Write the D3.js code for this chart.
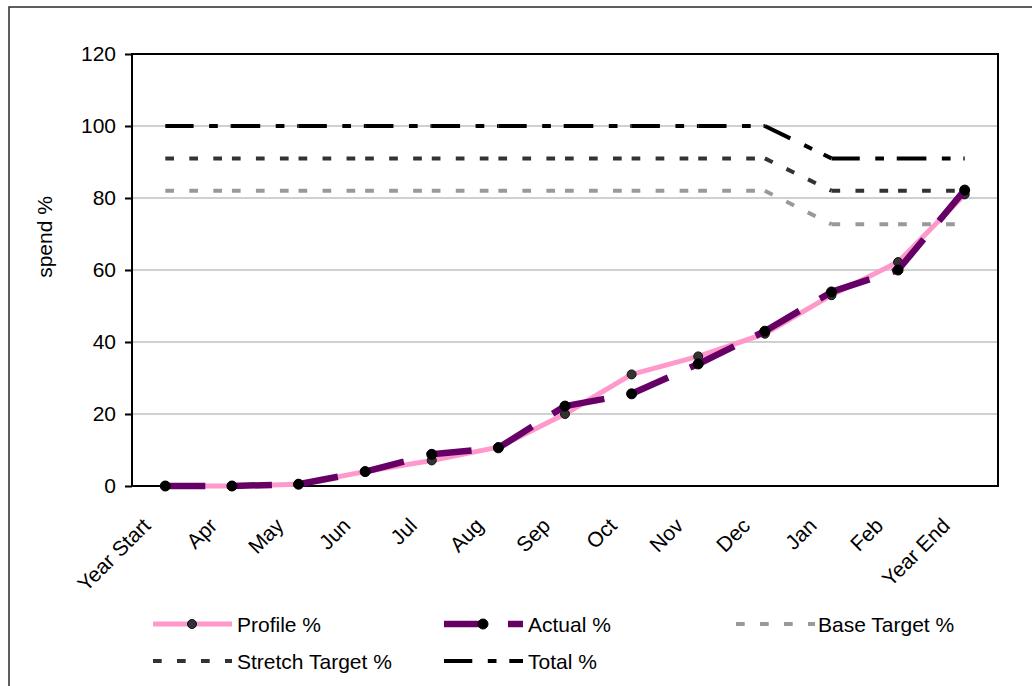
<!DOCTYPE html>
<html>
<head>
<meta charset="utf-8">
<script src="https://cdn.jsdelivr.net/npm/d3@7"></script>
<style>
  html, body { margin: 0; padding: 0; background: #fff; }
  svg { display: block; font-family: "Liberation Sans", Arial, sans-serif; }
</style>
</head>
<body>
<svg id="chart" width="1032" height="686"></svg>
<script>
// ---- data ----
const categories = ["Year Start", "Apr", "May", "Jun", "Jul", "Aug", "Sep", "Oct", "Nov", "Dec", "Jan", "Feb", "Year End"];
const profile = [0, 0, 0.5, 4, 7.1, 10.8, 20, 31, 36, 42.3, 53, 62.2, 81];
const actual = [0, 0, 0.5, 4, 8.8, 10.6, 22.2, 25.6, 33.9, 43, 53.9, 60, 82.2];
const baseTarget = [82, 82, 82, 82, 82, 82, 82, 82, 82, 82, 72.7, 72.7, 72.7];
const stretchTarget = [91, 91, 91, 91, 91, 91, 91, 91, 91, 91, 82, 82, 82];
const total = [100, 100, 100, 100, 100, 100, 100, 100, 100, 100, 91, 91, 91];
const yTicks = [0, 20, 40, 60, 80, 100, 120];
const yLabel = "spend %";

// ---- layout ----
const svg = d3.select("#chart");
const pLeft = 132, pRight = 998, pTop = 54, pBottom = 486;
const FONT = 21;

const x = d3.scalePoint().domain(categories).range([pLeft, pRight]).padding(0.5);
const y = d3.scaleLinear().domain([0, 120]).range([pBottom, pTop]);

// outer frame (extends off the right/bottom of the view)
svg.append("path").attr("d", `M9,700 L9,7 L1040,7`).attr("fill", "none")
  .attr("stroke", "#2a2a2a").attr("stroke-width", 1.5);

// gridlines
svg.append("g").selectAll("line").data(yTicks.filter(d => d > 0 && d < 120)).join("line")
  .attr("x1", pLeft).attr("x2", pRight).attr("y1", d => y(d)).attr("y2", d => y(d))
  .attr("stroke", "#c0c0c0").attr("stroke-width", 1.5);

// y axis
const yAxis = d3.axisLeft(y).tickValues(yTicks).tickSize(7).tickPadding(9).tickFormat(d3.format("d"));
const gy = svg.append("g").attr("transform", `translate(${pLeft},0)`).call(yAxis);
gy.select(".domain").remove();
gy.selectAll(".tick line").attr("stroke", "#000").attr("stroke-width", 2);
gy.selectAll(".tick text").attr("font-size", FONT).attr("fill", "#000")
  .attr("font-family", "Liberation Sans, Arial, sans-serif");

// x axis (labels only, rotated)
const xAxis = d3.axisBottom(x).tickSize(0).tickPadding(0);
const gx = svg.append("g").attr("transform", `translate(0,${pBottom})`).call(xAxis);
gx.select(".domain").remove();
gx.selectAll(".tick text")
  .attr("font-size", FONT).attr("fill", "#000")
  .attr("font-family", "Liberation Sans, Arial, sans-serif")
  .attr("text-anchor", "end")
  .attr("dy", null).attr("y", null)
  .attr("transform", "translate(-14,41) rotate(-45)");

// plot area border
svg.append("rect").attr("x", pLeft).attr("y", pTop).attr("width", pRight - pLeft).attr("height", pBottom - pTop)
  .attr("fill", "none").attr("stroke", "#000").attr("stroke-width", 2);

// y label
svg.append("text").attr("transform", `translate(52,237) rotate(-90)`)
  .attr("text-anchor", "middle").attr("font-size", FONT).text(yLabel);

// segment-wise drawing (dash pattern restarts at each point, as in the original)
function drawSegments(values, opts) {
  const g = svg.append("g");
  const segs = d3.range(values.length - 1).map(i => [[categories[i], values[i]], [categories[i + 1], values[i + 1]]]);
  const line = d3.line().x(d => x(d[0])).y(d => y(d[1]));
  g.selectAll("path").data(segs).join("path")
    .attr("d", line)
    .attr("fill", "none")
    .attr("stroke", opts.color)
    .attr("stroke-width", opts.width)
    .attr("stroke-dasharray", opts.dash || null)
    .attr("stroke-linecap", "butt");
  return g;
}
function drawMarkers(values, opts) {
  svg.append("g").selectAll("circle").data(values).join("circle")
    .attr("cx", (d, i) => x(categories[i])).attr("cy", d => y(d))
    .attr("r", opts.r).attr("fill", opts.fill).attr("stroke", opts.stroke).attr("stroke-width", 1);
}

const styles = {
  profile: { color: "#ff99cc", width: 5, dash: null, marker: { r: 4.5, fill: "#333", stroke: "#111" } },
  actual: { color: "#660066", width: 6.5, dash: "40,24", marker: { r: 5, fill: "#000", stroke: "#000" } },
  base: { color: "#999999", width: 4, dash: "8.7,15.3" },
  stretch: { color: "#333333", width: 4, dash: "8.7,15.3" },
  total: { color: "#000000", width: 4, dash: "28.3,15.5,8.7,12.8" }
};

drawSegments(profile, styles.profile);
drawMarkers(profile, styles.profile.marker);
drawSegments(actual, styles.actual);
drawMarkers(actual, styles.actual.marker);
drawSegments(baseTarget, styles.base);
drawSegments(stretchTarget, styles.stretch);
drawSegments(total, styles.total);

// legend
const legendItems = [
  { name: "Profile %", s: styles.profile, lx: 153, ly: 624 },
  { name: "Actual %", s: styles.actual, lx: 444, ly: 624 },
  { name: "Base Target %", s: styles.base, lx: 736, ly: 624 },
  { name: "Stretch Target %", s: styles.stretch, lx: 153, ly: 661 },
  { name: "Total %", s: styles.total, lx: 444, ly: 661 }
];
const lg = svg.append("g").selectAll("g").data(legendItems).join("g")
  .attr("transform", d => `translate(${d.lx},${d.ly})`);
lg.append("line").attr("x1", 0).attr("x2", 79).attr("y1", 0).attr("y2", 0)
  .attr("stroke", d => d.s.color).attr("stroke-width", d => d.s.width)
  .attr("stroke-dasharray", d => d.s.dash || null);
lg.filter(d => d.s.marker).append("circle").attr("cx", 39).attr("cy", 0)
  .attr("r", d => d.s.marker.r).attr("fill", d => d.s.marker.fill).attr("stroke", d => d.s.marker.stroke);
lg.append("text").attr("x", d => d.name === "Base Target %" ? 82 : 84).attr("y", 8)
  .attr("font-size", FONT).attr("fill", "#000").text(d => d.name);
</script>
</body>
</html>
